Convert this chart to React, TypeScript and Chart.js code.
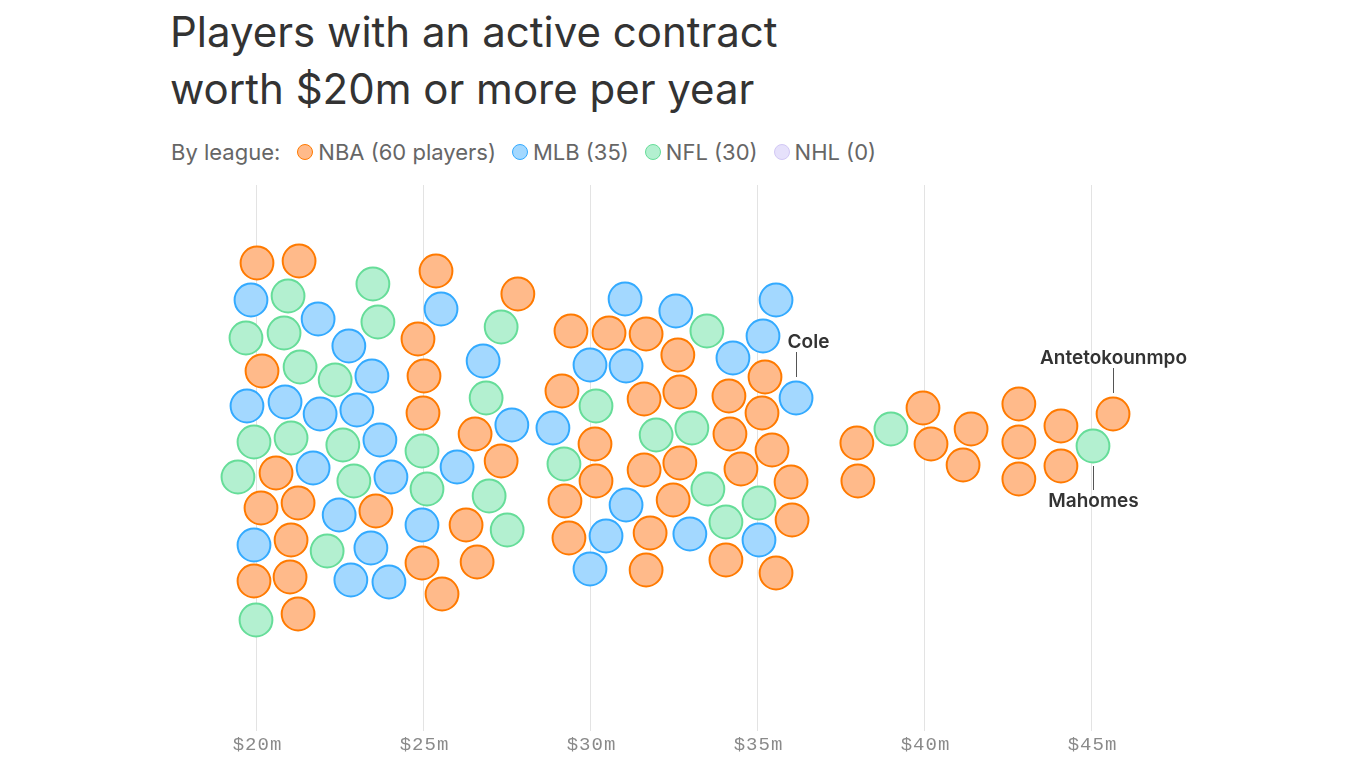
import React, { useEffect, useRef } from "react";
import { Chart, registerables } from "chart.js";

Chart.register(...registerables);

// ---- Data ----
const title = ["Players with an active contract", "worth $20m or more per year"];
const legendIntro = "By league:";
const leagues = ["NBA", "MLB", "NFL", "NHL"];
const legendLabels = ["NBA (60 players)", "MLB (35)", "NFL (30)", "NHL (0)"];
const xTickValues = [20, 25, 30, 35, 40, 45];

// contract value per year ($m) and swarm offset of each player
const nbaSalary = [
  20.0, 21.26, 20.15, 20.57, 20.12, 21.23, 23.56, 21.02, 19.91, 20.99, 21.23,
  25.36, 27.81, 24.82, 25.0, 24.97, 26.53, 27.31, 26.26, 24.94, 26.59, 25.54,
  29.4, 30.54, 31.65, 29.13, 31.59, 30.12, 31.59, 30.15, 29.22, 29.34, 31.77, 31.65,
  32.6, 32.66, 35.21, 34.13, 35.12, 34.16, 35.42, 32.66, 34.49, 35.99, 32.46, 36.02, 34.04, 35.54,
  37.96, 37.99, 39.94, 40.18, 41.38, 41.14, 42.81, 42.81, 42.81, 44.07, 44.07, 45.63,
];
const nbaOffset = [
  182, 184, 74, -28, -63, -58, -66, -95, -136, -132, -169,
  174, 151, 106, 69, 32, 11, -16, -80, -118, -117, -149,
  114, 112, 111, 54, 46, 1, -25, -36, -56, -93, -88, -125,
  90, 53, 68, 49, 32, 11, -5, -18, -24, -37, -55, -75, -115, -128,
  2, -36, 37, 1, 16, -20, 41, 3, -34, 19, -21, 31,
];
const mlbSalary = [
  19.82, 21.83, 22.75, 23.44, 19.7, 20.84, 21.89, 22.99, 23.68, 21.68, 24.01,
  22.46, 19.91, 23.41, 22.81, 23.95, 25.51, 26.77, 27.63, 25.99, 24.94,
  31.02, 29.97, 31.05, 28.86, 31.05, 30.45, 29.97,
  35.54, 32.54, 35.15, 34.25, 36.14, 32.96, 35.03,
];
const mlbOffset = [
  145, 126, 99, 69, 39, 43, 31, 35, 5, -23, -32,
  -70, -100, -103, -135, -137, 136, 84, 20, -22, -80,
  146, 80, 79, 17, -60, -91, -124,
  145, 134, 109, 87, 47, -89, -95,
];
const nflSalary = [
  20.93, 23.47, 23.62, 19.67, 20.81, 21.29, 22.34, 19.91, 21.02, 22.57,
  19.43, 22.9, 22.1, 19.97, 27.31, 26.86, 24.94, 25.09, 26.95, 27.49,
  30.15, 31.95, 29.19, 33.47, 33.02, 33.5, 35.03, 34.04, 38.98, 45.03,
];
const nflOffset = [
  149, 161, 123, 107, 112, 78, 65, 3, 7, 0,
  -32, -36, -106, -175, 118, 47, -6, -44, -51, -85,
  39, 10, -19, 114, 17, -44, -58, -77, 16, -1,
];
const nhlSalary: number[] = [];
const nhlOffset: number[] = [];

const labelNames = ["Cole", "Antetokounmpo", "Mahomes"];
const labelLeague = [1, 0, 2];
const labelIndex = [32, 59, 29];

// ---- Styles ----
const fillColors = ["#ffba8a", "#a3d8ff", "#b3f0d0", "#e6e1fb"];
const borderColors = ["#ff7a00", "#33aaff", "#66dd99", "#d2c8f5"];
const labelSide = ["above", "above", "below"];
const labelDx = [12, 0, 0];

const formatTick = (v: number) => `$${v}m`;

const tickLabelPlugin = {
  id: "spacedTickLabels",
  afterDraw(chart: any) {
    const ctx = chart.ctx;
    const scale = chart.scales.x;
    ctx.save();
    ctx.font = "19px 'Liberation Mono', monospace";
    (ctx as any).letterSpacing = "1px";
    ctx.fillStyle = "#8a8a8a";
    ctx.textAlign = "center";
    ctx.textBaseline = "middle";
    scale.ticks.forEach((t: any) => {
      const x = scale.getPixelForValue(t.value);
      ctx.fillText(formatTick(t.value), x + 0.5, chart.chartArea.bottom + 14);
    });
    ctx.restore();
  },
};

const annotationPlugin = {
  id: "playerLabels",
  afterDatasetsDraw(chart: any) {
    const ctx = chart.ctx;
    ctx.save();
    ctx.font = "600 19px Inter";
    ctx.fillStyle = "#333";
    ctx.strokeStyle = "#555";
    ctx.lineWidth = 1;
    ctx.textAlign = "center";
    labelNames.forEach((name, i) => {
      const pt = chart.getDatasetMeta(labelLeague[i]).data[labelIndex[i]];
      if (!pt) return;
      const x = Math.round(pt.x) + 0.5;
      const y = pt.y;
      ctx.beginPath();
      if (labelSide[i] === "above") {
        ctx.moveTo(x, y - 21);
        ctx.lineTo(x, y - 46);
        ctx.stroke();
        ctx.textBaseline = "alphabetic";
        ctx.fillText(name, x + labelDx[i], y - 50);
      } else {
        ctx.moveTo(x, y + 20);
        ctx.lineTo(x, y + 44);
        ctx.stroke();
        ctx.textBaseline = "top";
        ctx.fillText(name, x + labelDx[i], y + 46);
      }
    });
    ctx.restore();
  },
};

function makePoints(xs: number[], ys: number[]) {
  return xs.map((x, i) => ({ x, y: ys[i] }));
}

export default function App() {
  const canvasRef = useRef<HTMLCanvasElement | null>(null);

  useEffect(() => {
    if (!canvasRef.current) return;
    const sal = [nbaSalary, mlbSalary, nflSalary, nhlSalary];
    const off = [nbaOffset, mlbOffset, nflOffset, nhlOffset];
    const chart = new Chart(canvasRef.current, {
      type: "scatter",
      data: {
        datasets: leagues.map((lg, i) => ({
          label: lg,
          data: makePoints(sal[i], off[i]),
          backgroundColor: fillColors[i],
          borderColor: borderColors[i],
          borderWidth: 2,
          pointRadius: 16.4,
          pointHoverRadius: 16.4,
          clip: false as any,
        })),
      },
      options: {
        animation: false,
        responsive: false,
        maintainAspectRatio: false,
        layout: { autoPadding: false, padding: { left: 0, right: 0, top: 0, bottom: 37 } },
        plugins: {
          legend: { display: false },
          tooltip: { enabled: false },
        },
        scales: {
          x: {
            type: "linear",
            min: 12.3054,
            max: 53.2036,
            border: { display: false },
            grid: { color: "#e3e3e3", drawTicks: false, lineWidth: 1 },
            afterBuildTicks: (axis: any) => {
              axis.ticks = xTickValues.map((v) => ({ value: v }));
            },
            ticks: { display: false },
          },
          y: {
            type: "linear",
            display: false,
            min: -286,
            max: 260,
          },
        },
      },
      plugins: [annotationPlugin, tickLabelPlugin],
    });
    return () => chart.destroy();
  }, []);

  return (
    <div
      style={{
        position: "absolute",
        left: 0,
        top: 0,
        width: 1366,
        height: 768,
        background: "#fff",
        fontFamily: "Inter, sans-serif",
        overflow: "hidden",
      }}
    >
      <div
        style={{
          position: "absolute",
          left: 170,
          top: 3,
          fontSize: 42,
          lineHeight: "57px",
          color: "#333",
          fontWeight: 400,
          whiteSpace: "nowrap",
        }}
      >
        <div>{title[0]}</div>
        <div>{title[1]}</div>
      </div>
      <div
        style={{
          position: "absolute",
          left: 171,
          top: 138,
          height: 28,
          display: "flex",
          alignItems: "center",
          fontSize: 22,
          color: "#666",
          whiteSpace: "nowrap",
        }}
      >
        <span style={{ marginRight: 17 }}>{legendIntro}</span>
        {legendLabels.map((lab, i) => (
          <span key={lab} style={{ display: "flex", alignItems: "center", marginRight: 16 }}>
            <span
              style={{
                display: "inline-block",
                width: 14,
                height: 14,
                borderRadius: "50%",
                background: fillColors[i],
                border: `1.5px solid ${borderColors[i]}`,
                marginRight: 5,
              }}
            />
            <span>{lab}</span>
          </span>
        ))}
      </div>
      <canvas
        ref={canvasRef}
        width={1366}
        height={583}
        style={{ position: "absolute", left: 0, top: 185, width: 1366, height: 583 }}
      />
    </div>
  );
}
